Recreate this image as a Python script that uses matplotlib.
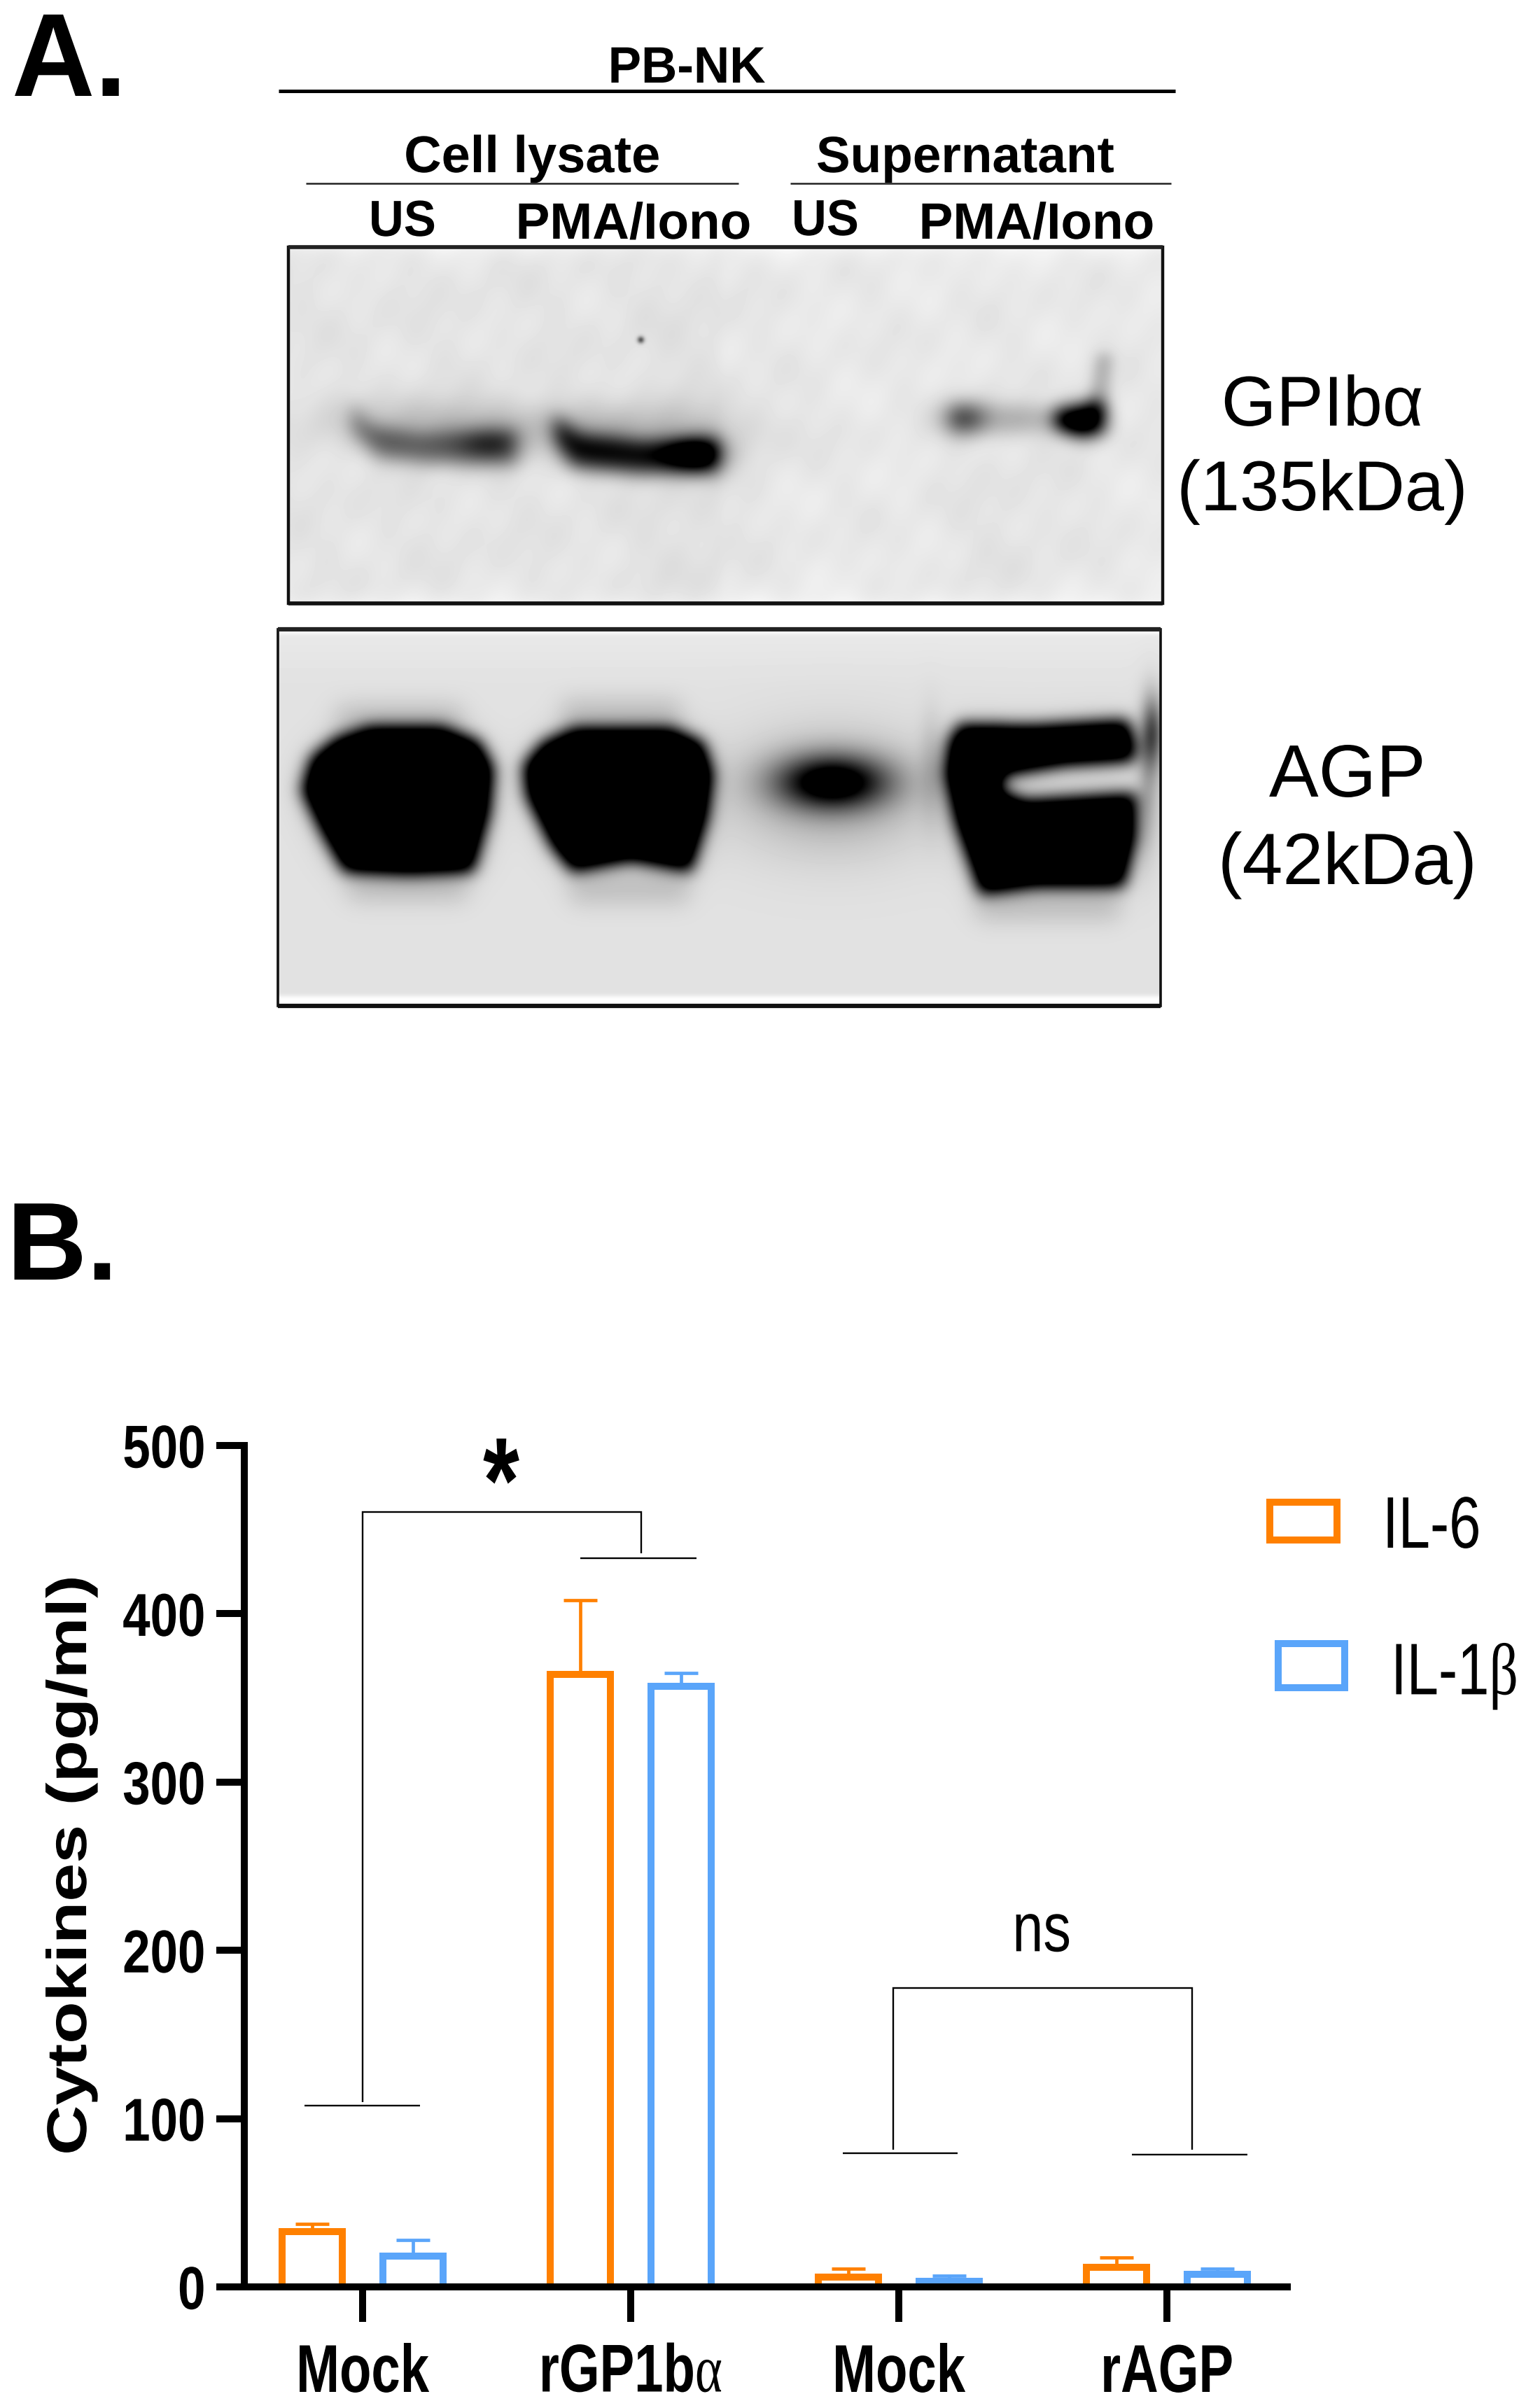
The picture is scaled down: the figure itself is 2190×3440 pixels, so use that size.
import numpy as np
import matplotlib
matplotlib.use('Agg')
import matplotlib.pyplot as plt
import matplotlib.patheffects as pe
from matplotlib.path import Path
from matplotlib.patches import Rectangle
from matplotlib.transforms import Affine2D

# Data panel B
groups = ['Mock', r'rGP1b$\mathrm{\alpha}$', 'Mock', 'rAGP']
il6_mean = [33, 364, 6, 11.5]
il6_err = [4.5, 44, 5, 6]
il1b_mean = [18.5, 357, 3.4, 7.3]
il1b_err = [9.5, 8, 3.2, 3.7]
y_ticks = [0, 100, 200, 300, 400, 500]

ORANGE = '#FF8000'
BLUE = '#5AA5FA'
W, H = 2190, 3440
PX = 0.72  # pixels to points at dpi 100

plt.rcParams['font.family'] = ['Liberation Sans', 'DejaVu Sans']
plt.rcParams['mathtext.fontset'] = 'custom'
plt.rcParams['mathtext.rm'] = 'Liberation Serif'


# the original figure was stretched by hand, glyphs have to follow
class Stretch(pe.AbstractPathEffect):
    def __init__(self, sx=1.0, sy=1.0, cy=0.0):
        super().__init__()
        self.sx, self.sy, self.cy = sx, sy, cy

    def draw_path(self, renderer, gc, tpath, affine, rgbFace=None):
        local = Affine2D().translate(0, -self.cy).scale(self.sx, self.sy).translate(0, self.cy)
        renderer.draw_path(gc, tpath, local + affine, rgbFace)


def blur(a, sigma):
    r = int(3 * sigma)
    k = np.exp(-0.5 * (np.arange(-r, r + 1) / sigma) ** 2)
    k /= k.sum()
    pad = np.pad(a, r, mode='edge')
    pad = np.apply_along_axis(lambda v: np.convolve(v, k, mode='same'), 0, pad)
    pad = np.apply_along_axis(lambda v: np.convolve(v, k, mode='same'), 1, pad)
    return pad[r:-r, r:-r]


def poly_mask(pts, xx, yy):
    m = Path(pts).contains_points(np.c_[xx.ravel(), yy.ravel()])
    return m.reshape(xx.shape).astype(float)


def blob(xx, yy, cx, cy, sx, sy):
    return np.exp(-0.5 * (((xx - cx) / sx) ** 2 + ((yy - cy) / sy) ** 2))


fig = plt.figure(figsize=(W / 100, H / 100), dpi=100)
over = fig.add_axes([0, 0, 1, 1])
over.axis('off')


# ---- blot 1, GPIba ----
x0, x1, y0, y1 = 412, 1661, 353, 862
xx, yy = np.meshgrid(np.arange(x0, x1), np.arange(y0, y1))
zx = lambda p: [(x * 1.397, y * 0.574) for x, y in p]
bands = [
    (0.55, 13, [(358, 1000), (375, 1060), (430, 1080), (528, 1070), (528, 1155), (430, 1150), (385, 1135), (362, 1070)]),
    (0.92, 13, [(565, 1030), (590, 1080), (660, 1100), (735, 1090), (735, 1175), (650, 1175), (585, 1160), (568, 1100)]),
    (0.25, 13, [(970, 1005), (1090, 1015), (1090, 1070), (970, 1080)]),
    (1.5, 13, [(1080, 1025), (1125, 1000), (1130, 1070), (1105, 1085), (1080, 1060)]),
    (0.26, 9, [(1112, 1010), (1122, 880), (1137, 880), (1132, 1040)]),
]
dens = np.zeros(xx.shape)
for d, s, pts in bands:
    dens += d * blur(poly_mask(zx(pts), xx, yy), s)
dens += 0.22 * blob(xx, yy, 500 * 1.397, 1105 * 0.574, 32, 18)
dens += 0.18 * blob(xx, yy, 450 * 1.397, 1055 * 0.574, 110, 26)
dens += 0.20 * blob(xx, yy, 650 * 1.397, 1075 * 0.574, 110, 28)
dens += 0.40 * blob(xx, yy, 985 * 1.397, 1040 * 0.574, 24, 18)
dens += 0.50 * blob(xx, yy, 710 * 1.397, 1130 * 0.574, 30, 17)
dens += 0.60 * blob(xx, yy, 915, 485, 3.5, 3.5)
bg = blur(np.where(xx < 1030, 0.895, 0.91), 6)
# soft mottling of the membrane
bg += 0.014 * np.sin(xx / 37.0 + yy / 61.0) * np.sin(yy / 29.0 - xx / 83.0)
bg += 0.010 * np.sin(xx / 13.0) * np.sin(yy / 17.0 + xx / 41.0)
bg -= 0.02 * blob(xx, yy, 1000, 700, 60, 220) + 0.02 * blob(xx, yy, 1440, 760, 70, 120)
bg += 0.05 * np.exp(-(yy - y0) / 14.0) + 0.05 * np.exp(-(y1 - yy) / 14.0)
img = np.clip(bg * (1 - np.clip(dens, 0, 1)), 0, 1)
over.imshow(img, cmap='gray', vmin=0, vmax=1, extent=(x0, x1, y1, y0), aspect='auto', interpolation='bilinear')
over.add_patch(Rectangle((x0, y0), x1 - x0, y1 - y0, fill=False, ec='#111111', lw=3.2))
over.plot([x0, x1], [y1, y1], color='#111111', lw=4, solid_capstyle='butt')
over.plot([x0, x1], [y0, y0], color='#222222', lw=4, solid_capstyle='butt')

# ---- blot 2, AGP ----
x0, x1, y0, y1 = 397, 1658, 899, 1437
xx, yy = np.meshgrid(np.arange(x0, x1), np.arange(y0, y1))
zx = lambda p: [(350 + x * 1.173, 860 + y * 0.395) for x, y in p]
lane_a = [(150, 450), (240, 450), (285, 500), (303, 600), (298, 760), (278, 975), (200, 985), (120, 975), (92, 830), (68, 680), (80, 560), (110, 490)]
lane_b = [(400, 455), (520, 455), (558, 505), (570, 620), (563, 780), (543, 975), (470, 935), (398, 975), (372, 880), (342, 700), (338, 590), (362, 505)]
lane_d = [(870, 440), (960, 445), (1075, 425), (1085, 520), (1082, 575), (1000, 590), (925, 625), (920, 680), (950, 715), (1085, 690), (1085, 850), (1070, 1030), (960, 1030), (895, 1055), (865, 800), (852, 620), (857, 500)]
dens = np.zeros(xx.shape)
for pts in [lane_a, lane_b, lane_d]:
    m = poly_mask(zx(pts), xx, yy)
    dens += 1.25 * blur(m, 11) + 0.2 * blur(m, 24)
dens += 1.05 * blob(xx, yy, 350 + 715 * 1.173, 860 + 650 * 0.395, 56, 27)
dens += 0.25 * blob(xx, yy, 350 + 715 * 1.173, 860 + 690 * 0.395, 100, 60)
# smear above and below the lanes
for pts in [[(110, 370), (265, 370), (265, 460), (110, 460)], [(385, 350), (530, 350), (530, 460), (385, 460)],
            [(125, 980), (270, 980), (270, 1080), (125, 1080)], [(395, 980), (540, 980), (540, 1090), (395, 1090)],
            [(890, 1040), (1065, 1040), (1065, 1150), (890, 1150)]]:
    dens += 0.15 * blur(poly_mask(zx(pts), xx, yy), 16)
dens += 0.55 * blob(xx, yy, 350 + 1105 * 1.173, 860 + 470 * 0.395, 11, 35)
dens += 0.22 * blob(xx, yy, 350 + 1100 * 1.173, 860 + 640 * 0.395, 12, 70)
dens += 0.12 * blob(xx, yy, 350 + 835 * 1.173, 860 + 600 * 0.395, 12, 55)
bg = 0.885 + 0.025 * np.clip((980 - yy) / 70, 0, 1)
bg[-14:, :] = 1.0
bg[:6, :] = 1.0
bg = blur(bg, 3)
img = np.clip(bg * (1 - np.clip(dens, 0, 1)), 0, 1)
over.imshow(img, cmap='gray', vmin=0, vmax=1, extent=(x0, x1, y1, y0), aspect='auto', interpolation='bilinear')
over.add_patch(Rectangle((x0, y0), x1 - x0, y1 - y0, fill=False, ec='#111111', lw=2.6))
over.plot([x0, x1], [y1, y1], color='#111111', lw=4.5, solid_capstyle='butt')
over.plot([x0, x1], [y0, y0], color='#222222', lw=4.5, solid_capstyle='butt')

# headers panel A
over.plot([398, 1679], [130, 130], color='k', lw=3.6, solid_capstyle='butt')
over.plot([437, 1055], [262, 262], color='#222222', lw=1.8, solid_capstyle='butt')
over.plot([1129, 1673], [262, 262], color='#222222', lw=1.8, solid_capstyle='butt')


def label(x, y, s, em, sy=1.0, weight='normal', ha='center'):
    over.text(x, y, s, fontsize=em * PX, fontweight=weight, ha=ha, va='baseline',
              path_effects=[Stretch(sy=sy)])


label(17, 137, 'A.', 164, 1.03, 'bold', 'left')
label(10, 1828, 'B.', 158, 1.0, 'bold', 'left')
label(981, 118, 'PB-NK', 71, 1.03, 'bold')
label(760, 246, 'Cell lysate', 74, 1.0, 'bold')
label(1379, 246, 'Supernatant', 73, 1.0, 'bold')
label(575, 337, 'US', 69, 1.05, 'bold')
label(905, 341, 'PMA/Iono', 73, 1.0, 'bold')
label(1179, 336, 'US', 69, 1.05, 'bold')
label(1481, 341, 'PMA/Iono', 73, 1.0, 'bold')
label(1889, 608, 'GPIbα', 101)
label(1889, 729, '(135kDa)', 101)
label(1925, 1138, 'AGP', 106)
label(1925, 1263, '(42kDa)', 104)

# ---- panel B ----
ax = fig.add_axes([349 / W, (H - 3267) / H, 1495 / W, 1202 / H])
ax.patch.set_alpha(0)
x = np.arange(len(groups))
off = 72 / 383
wid = 86 / 383
for xs, mean, err, col in [(x - off, il6_mean, il6_err, ORANGE), (x + off, il1b_mean, il1b_err, BLUE)]:
    ax.errorbar(xs, mean, yerr=[np.zeros(4), err], fmt='none', ecolor=col, elinewidth=3.4,
                capsize=17, capthick=3.4, zorder=2)
    ax.bar(xs, mean, width=wid, facecolor='white', edgecolor=col, linewidth=7.2, zorder=3)

ax.set_xlim(-169 / 383, 1326 / 383)
ax.set_ylim(0, 500)
for s in ['top', 'right']:
    ax.spines[s].set_visible(False)
ax.spines['left'].set_linewidth(7.2)
ax.spines['bottom'].set_linewidth(7.2)
ax.spines['bottom'].set_capstyle('butt')
ax.spines['left'].set_zorder(5)
ax.spines['bottom'].set_zorder(5)

ax.set_yticks(y_ticks)
ax.set_yticklabels([str(v) for v in y_ticks], fontsize=51, fontweight='bold', va='center_baseline',
                   path_effects=[Stretch(sy=1.22, cy=38.5)])
ax.tick_params(axis='y', length=29, width=7.2, pad=11)
ax.set_xticks(x)
ax.set_xticklabels(groups, fontsize=53.5, fontweight='bold', va='baseline',
                   path_effects=[Stretch(sy=1.3)])
ax.tick_params(axis='x', length=36, width=7.2, pad=72)

ax.set_ylabel('Cytokines (pg/ml)', fontsize=57.6, fontweight='bold', rotation=90, rotation_mode='anchor',
              ha='left', va='baseline', path_effects=[Stretch(sx=1.235)])
ax.yaxis.set_label_coords((123 - 349) / 1495, (3267 - 3079) / 1202)

# significance brackets
kw = dict(color='k', lw=1.7, clip_on=False, zorder=4, solid_capstyle='butt', solid_joinstyle='miter')
ax.plot([0, 0, 1.038, 1.038], [110, 460.5, 460.5, 436], **kw)
ax.plot([-0.217, 0.214], [107.7, 107.7], **kw)
ax.plot([0.812, 1.245], [433, 433], **kw)
ax.plot([1.98, 1.98, 3.094, 3.094], [81.5, 177.6, 177.6, 81.5], **kw)
ax.plot([1.79, 2.22], [79.5, 79.5], **kw)
ax.plot([2.87, 3.30], [78.6, 78.6], **kw)
ax.text(0.517, 454.5, '*', fontsize=96, fontweight='bold', ha='center', va='baseline',
        path_effects=[Stretch(sy=1.3)])
ax.text(2.533, 199.5, 'ns', fontsize=57, ha='center', va='baseline', path_effects=[Stretch(sy=1.25)])

# legend, entries are not aligned in the original
over.add_patch(Rectangle((1814, 2146), 96, 54, fill=False, ec=ORANGE, lw=7.2, joinstyle='miter'))
over.add_patch(Rectangle((1826, 2348), 95, 63, fill=False, ec=BLUE, lw=7.2, joinstyle='miter'))
label(1975, 2211, 'IL-6', 81.5, 1.28, ha='left')
label(1987, 2421, r'IL-1$\mathrm{\beta}$', 81.5, 1.28, ha='left')

over.set_xlim(0, W)
over.set_ylim(H, 0)
fig.savefig('out.png', dpi=100)
